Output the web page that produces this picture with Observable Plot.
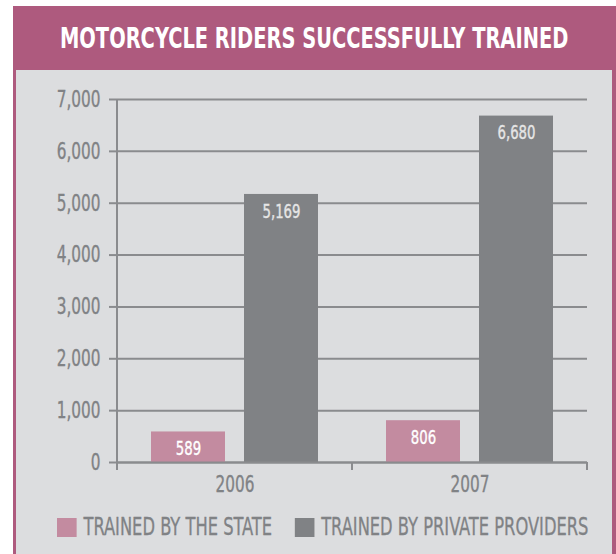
<!DOCTYPE html>
<html>
<head>
<meta charset="utf-8">
<script src="https://cdn.jsdelivr.net/npm/d3@7"></script>
<script src="https://cdn.jsdelivr.net/npm/@observablehq/plot@0.6"></script>
<style>
  html, body { margin: 0; padding: 0; background: #ffffff; }
  #page { position: relative; width: 616px; height: 554px; overflow: hidden;
          font-family: "DejaVu Sans Condensed", "DejaVu Sans", sans-serif; }
  #band { position: absolute; left: 13px; top: 6px; width: 603px; height: 64px; background: #ae5a7e;
          text-align: center; line-height: 64px; white-space: nowrap; }
  #band span { display: inline-block; color: #ffffff; font-weight: bold; font-size: 29px;
               transform: scaleX(0.745); transform-origin: 50% 50%; margin: 0 -100px; }
  #panel { position: absolute; left: 13px; top: 70px; width: 596px; height: 490px; background: #dcdddf;
           border-left: 3px solid #ae5a7e; border-right: 4px solid #ae5a7e; }
  #chart { position: absolute; left: 0; top: 70px; }
  #legend { position: absolute; left: 57px; top: 513px; display: flex; align-items: center;
            font-size: 24px; color: #808285; white-space: nowrap; -webkit-text-stroke: 0.3px #808285;
            transform: scaleX(0.755); transform-origin: 0 50%; }
  .sw { display: inline-block; width: 26px; height: 19px; margin-right: 9px; }
  .item { display: flex; align-items: center; margin-right: 30px; }
</style>
</head>
<body>
<div id="page">
  <div id="band"><span id="title"></span></div>
  <div id="panel"></div>
  <div id="chart"></div>
  <div id="legend"></div>
</div>
<script>
const title = "MOTORCYCLE RIDERS SUCCESSFULLY TRAINED";
const years = ["2006", "2007"];
const seriesKeys = ["state", "private"];
const seriesNames = ["TRAINED BY THE STATE", "TRAINED BY PRIVATE PROVIDERS"];
const stateValues = [589, 806];
const privateValues = [5169, 6680];
const yTicks = [0, 1000, 2000, 3000, 4000, 5000, 6000, 7000];
const colors = ["#c38ba0", "#808285"];
const labelColors = ["#ffffff", "#e6e6e6"];

document.getElementById("title").textContent = title;

const data = [];
years.forEach((yr, i) => {
  data.push({year: yr, series: "state", value: stateValues[i]});
  data.push({year: yr, series: "private", value: privateValues[i]});
});

const fmt = d3.format(",");
const axisColor = "#8a8b8e";
const textColor = "#808285";
const squeeze = 0.74;

const chart = Plot.plot({
  width: 616,
  height: 440,
  marginLeft: 116,
  marginRight: 29,
  marginTop: 29,
  marginBottom: 48,
  style: {background: "transparent", fontFamily: "'DejaVu Sans Condensed', 'DejaVu Sans', sans-serif", overflow: "visible"},
  fx: {domain: years, padding: 0, label: null},
  x: {domain: seriesKeys, paddingInner: 0.2, paddingOuter: 0.356, axis: null},
  y: {domain: [0, 7000], ticks: yTicks, label: null},
  color: {domain: seriesKeys, range: colors},
  marks: [
    Plot.gridY(yTicks, {stroke: axisColor, strokeOpacity: 1, strokeWidth: 2}),
    Plot.axisY(yTicks, {tickFormat: fmt, tickSize: 8, tickPadding: 9, fontSize: 23, fill: textColor, stroke: axisColor, strokeWidth: 2, label: null}),
    Plot.axisFx({anchor: "bottom", tickSize: 0, tickPadding: 13, fontSize: 23, fill: textColor, label: null}),
    Plot.barY(data, {fx: "year", x: "series", y: "value", fill: "series"}),
    Plot.ruleY([0], {stroke: axisColor, strokeWidth: 2}),
    Plot.text(data.filter(d => d.series === "state"), {fx: "year", x: "series", y: "value", text: d => fmt(d.value), lineAnchor: "top", dy: 9, fontSize: 20, fill: labelColors[0]}),
    Plot.text(data.filter(d => d.series === "private"), {fx: "year", x: "series", y: "value", text: d => fmt(d.value), lineAnchor: "top", dy: 9, fontSize: 20, fill: labelColors[1]})
  ]
});

document.getElementById("chart").appendChild(chart);

// condense all svg text horizontally around its own anchor, and thicken slightly
d3.select(chart).selectAll("text").each(function () {
  const t = this.getAttribute("transform");
  if (t) {
    this.setAttribute("transform", t + ` scale(${squeeze},1)`);
  } else {
    const x = +(this.getAttribute("x") || 0);
    this.setAttribute("transform", `translate(${x},0) scale(${squeeze},1) translate(${-x},0)`);
  }
  this.style.stroke = "currentColor";
});
d3.select(chart).selectAll("text").each(function () {
  const f = getComputedStyle(this).fill;
  this.style.stroke = f;
  this.style.strokeWidth = "0.35px";
});

// axis lines and facet boundary ticks, derived from the chart's scales
const fx = chart.scale("fx");
const y = chart.scale("y");
const svg = d3.select(chart);
const left = fx.apply(years[0]);
const edges = years.map(yr => fx.apply(yr)).concat([fx.apply(years[years.length - 1]) + fx.bandwidth]);
const g = svg.append("g").attr("stroke", axisColor).attr("stroke-width", 2);
g.append("line").attr("x1", left).attr("x2", left).attr("y1", y.apply(7000)).attr("y2", y.apply(0) + 8);
edges.forEach(e => g.append("line").attr("x1", e).attr("x2", e).attr("y1", y.apply(0)).attr("y2", y.apply(0) + 8));

// legend
const legend = d3.select("#legend");
seriesNames.forEach((name, i) => {
  const item = legend.append("span").attr("class", "item");
  item.append("span").attr("class", "sw").style("background", colors[i]);
  item.append("span").text(name);
});
</script>
</body>
</html>
